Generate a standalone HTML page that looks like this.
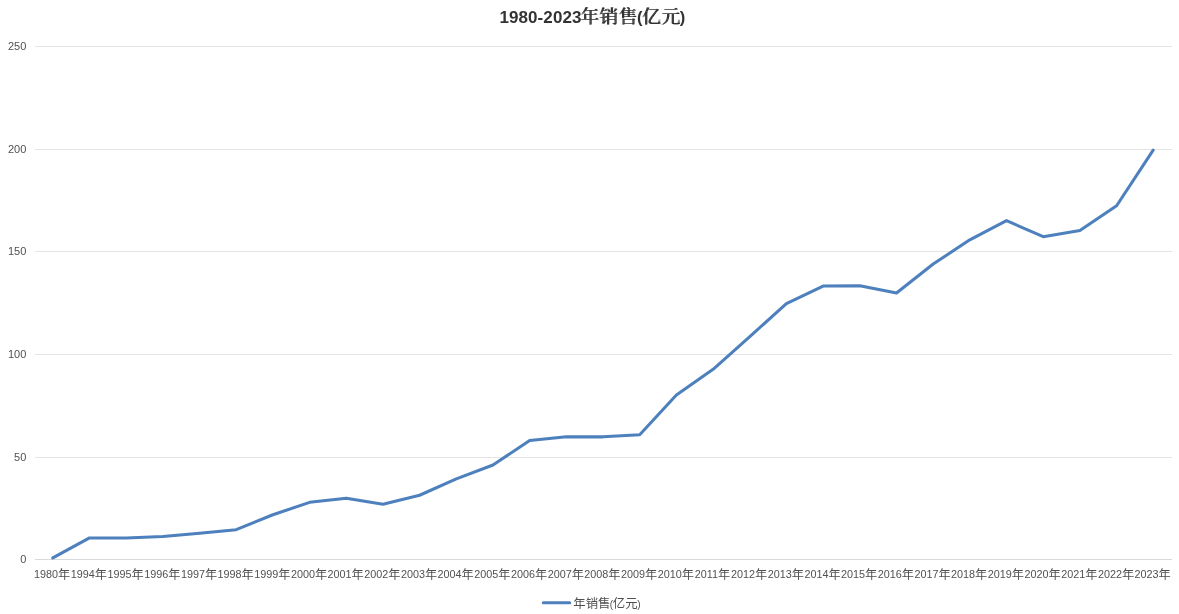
<!DOCTYPE html>
<html lang="zh-CN">
<head>
<meta charset="utf-8">
<title>1980-2023年销售(亿元)</title>
<style>
html,body{margin:0;padding:0;background:#fff;}
body{width:1179px;height:614px;overflow:hidden;}
svg{display:block;}
.lat{font-family:"Liberation Sans",sans-serif;}
.cjk{font-family:"Liberation Sans","Noto Sans CJK SC",sans-serif;}
.ser{font-family:"Liberation Serif","Noto Serif CJK SC",serif;}
</style>
</head>
<body>
<svg width="1179" height="614" viewBox="0 0 1179 614">
<rect width="1179" height="614" fill="#ffffff"/>

<g stroke="#e4e4e4" stroke-width="1" shape-rendering="crispEdges">
<line x1="35" y1="46.5" x2="1172" y2="46.5"/>
<line x1="35" y1="149.5" x2="1172" y2="149.5"/>
<line x1="35" y1="251.5" x2="1172" y2="251.5"/>
<line x1="35" y1="354.5" x2="1172" y2="354.5"/>
<line x1="35" y1="457.5" x2="1172" y2="457.5"/>
</g>
<line x1="35" y1="559.5" x2="1172" y2="559.5" stroke="#d9d9d9" stroke-width="1" shape-rendering="crispEdges"/>
<defs><filter id="fb" x="-5%" y="-10%" width="110%" height="120%"><feOffset in="SourceGraphic" dx="1" dy="0" result="o"/><feMerge><feMergeNode in="SourceGraphic"/><feMergeNode in="o"/></feMerge></filter></defs>
<g fill="#333333">
<text class="lat" x="499.4" y="22.7" font-weight="bold" font-size="17px" letter-spacing="0.1">1980-2023</text>
<text class="ser" x="579.9" y="22.7" font-size="18.67px" font-weight="400" letter-spacing="0.5" filter="url(#fb)">年销售</text>
<text class="lat" x="637.0" y="22.7" font-weight="bold" font-size="16.5px">(</text>
<text class="ser" x="641.8" y="22.7" font-size="18.67px" font-weight="400" letter-spacing="0.5" filter="url(#fb)">亿元</text>
<text class="lat" x="679.8" y="22.7" font-weight="bold" font-size="16.5px">)</text>
</g>
<g class="lat" font-size="11px" fill="#505050" text-anchor="end">
<text x="26.3" y="50.1">250</text>
<text x="26.3" y="153.1">200</text>
<text x="26.3" y="255.1">150</text>
<text x="26.3" y="358.1">100</text>
<text x="26.3" y="461.1">50</text>
<text x="26.3" y="563.1">0</text>
</g>
<g fill="#505050" text-anchor="middle">
<text x="52.2" y="577.7"><tspan class="lat" font-size="10.8px">1980</tspan><tspan class="cjk" font-size="12.2px" dy="1.3">年</tspan></text>
<text x="88.9" y="577.7"><tspan class="lat" font-size="10.8px">1994</tspan><tspan class="cjk" font-size="12.2px" dy="1.3">年</tspan></text>
<text x="125.6" y="577.7"><tspan class="lat" font-size="10.8px">1995</tspan><tspan class="cjk" font-size="12.2px" dy="1.3">年</tspan></text>
<text x="162.3" y="577.7"><tspan class="lat" font-size="10.8px">1996</tspan><tspan class="cjk" font-size="12.2px" dy="1.3">年</tspan></text>
<text x="199.0" y="577.7"><tspan class="lat" font-size="10.8px">1997</tspan><tspan class="cjk" font-size="12.2px" dy="1.3">年</tspan></text>
<text x="235.6" y="577.7"><tspan class="lat" font-size="10.8px">1998</tspan><tspan class="cjk" font-size="12.2px" dy="1.3">年</tspan></text>
<text x="272.3" y="577.7"><tspan class="lat" font-size="10.8px">1999</tspan><tspan class="cjk" font-size="12.2px" dy="1.3">年</tspan></text>
<text x="309.0" y="577.7"><tspan class="lat" font-size="10.8px">2000</tspan><tspan class="cjk" font-size="12.2px" dy="1.3">年</tspan></text>
<text x="345.7" y="577.7"><tspan class="lat" font-size="10.8px">2001</tspan><tspan class="cjk" font-size="12.2px" dy="1.3">年</tspan></text>
<text x="382.4" y="577.7"><tspan class="lat" font-size="10.8px">2002</tspan><tspan class="cjk" font-size="12.2px" dy="1.3">年</tspan></text>
<text x="419.0" y="577.7"><tspan class="lat" font-size="10.8px">2003</tspan><tspan class="cjk" font-size="12.2px" dy="1.3">年</tspan></text>
<text x="455.7" y="577.7"><tspan class="lat" font-size="10.8px">2004</tspan><tspan class="cjk" font-size="12.2px" dy="1.3">年</tspan></text>
<text x="492.4" y="577.7"><tspan class="lat" font-size="10.8px">2005</tspan><tspan class="cjk" font-size="12.2px" dy="1.3">年</tspan></text>
<text x="529.1" y="577.7"><tspan class="lat" font-size="10.8px">2006</tspan><tspan class="cjk" font-size="12.2px" dy="1.3">年</tspan></text>
<text x="565.8" y="577.7"><tspan class="lat" font-size="10.8px">2007</tspan><tspan class="cjk" font-size="12.2px" dy="1.3">年</tspan></text>
<text x="602.4" y="577.7"><tspan class="lat" font-size="10.8px">2008</tspan><tspan class="cjk" font-size="12.2px" dy="1.3">年</tspan></text>
<text x="639.1" y="577.7"><tspan class="lat" font-size="10.8px">2009</tspan><tspan class="cjk" font-size="12.2px" dy="1.3">年</tspan></text>
<text x="675.8" y="577.7"><tspan class="lat" font-size="10.8px">2010</tspan><tspan class="cjk" font-size="12.2px" dy="1.3">年</tspan></text>
<text x="712.5" y="577.7"><tspan class="lat" font-size="10.8px">2011</tspan><tspan class="cjk" font-size="12.2px" dy="1.3">年</tspan></text>
<text x="749.2" y="577.7"><tspan class="lat" font-size="10.8px">2012</tspan><tspan class="cjk" font-size="12.2px" dy="1.3">年</tspan></text>
<text x="785.8" y="577.7"><tspan class="lat" font-size="10.8px">2013</tspan><tspan class="cjk" font-size="12.2px" dy="1.3">年</tspan></text>
<text x="822.5" y="577.7"><tspan class="lat" font-size="10.8px">2014</tspan><tspan class="cjk" font-size="12.2px" dy="1.3">年</tspan></text>
<text x="859.2" y="577.7"><tspan class="lat" font-size="10.8px">2015</tspan><tspan class="cjk" font-size="12.2px" dy="1.3">年</tspan></text>
<text x="895.9" y="577.7"><tspan class="lat" font-size="10.8px">2016</tspan><tspan class="cjk" font-size="12.2px" dy="1.3">年</tspan></text>
<text x="932.6" y="577.7"><tspan class="lat" font-size="10.8px">2017</tspan><tspan class="cjk" font-size="12.2px" dy="1.3">年</tspan></text>
<text x="969.2" y="577.7"><tspan class="lat" font-size="10.8px">2018</tspan><tspan class="cjk" font-size="12.2px" dy="1.3">年</tspan></text>
<text x="1005.9" y="577.7"><tspan class="lat" font-size="10.8px">2019</tspan><tspan class="cjk" font-size="12.2px" dy="1.3">年</tspan></text>
<text x="1042.6" y="577.7"><tspan class="lat" font-size="10.8px">2020</tspan><tspan class="cjk" font-size="12.2px" dy="1.3">年</tspan></text>
<text x="1079.3" y="577.7"><tspan class="lat" font-size="10.8px">2021</tspan><tspan class="cjk" font-size="12.2px" dy="1.3">年</tspan></text>
<text x="1116.0" y="577.7"><tspan class="lat" font-size="10.8px">2022</tspan><tspan class="cjk" font-size="12.2px" dy="1.3">年</tspan></text>
<text x="1152.6" y="577.7"><tspan class="lat" font-size="10.8px">2023</tspan><tspan class="cjk" font-size="12.2px" dy="1.3">年</tspan></text>
</g>
<polyline fill="none" stroke="#4d80bc" stroke-width="3.05" stroke-linecap="round" stroke-linejoin="round" points="52.8,557.95 89.5,537.95 126.2,537.95 162.9,536.55 199.6,533.15 236.2,529.65 272.9,514.75 309.6,502.35 346.3,498.15 383.0,504.15 419.6,495.25 456.3,478.85 493.0,465.05 529.7,440.45 566.4,436.75 603.0,436.85 639.7,434.75 676.4,395.05 713.1,369.35 749.8,336.65 786.4,303.55 823.1,286.05 859.8,285.75 896.5,292.95 933.2,264.05 969.8,239.85 1006.5,220.65 1043.2,236.65 1079.9,230.45 1116.6,205.75 1153.2,150.15"/>
<line x1="543.3" y1="602.8" x2="569.7" y2="602.8" stroke="#4d80bc" stroke-width="3.1" stroke-linecap="round"/>
<text x="573.3" y="608.2" fill="#505050"><tspan class="cjk" font-size="12.4px">年销售</tspan><tspan class="lat" font-size="10px" dx="-0.6">(</tspan><tspan class="cjk" font-size="12.4px" dx="-0.4">亿元</tspan><tspan class="lat" font-size="10px" dx="-0.3">)</tspan></text>
</svg>
</body>
</html>
